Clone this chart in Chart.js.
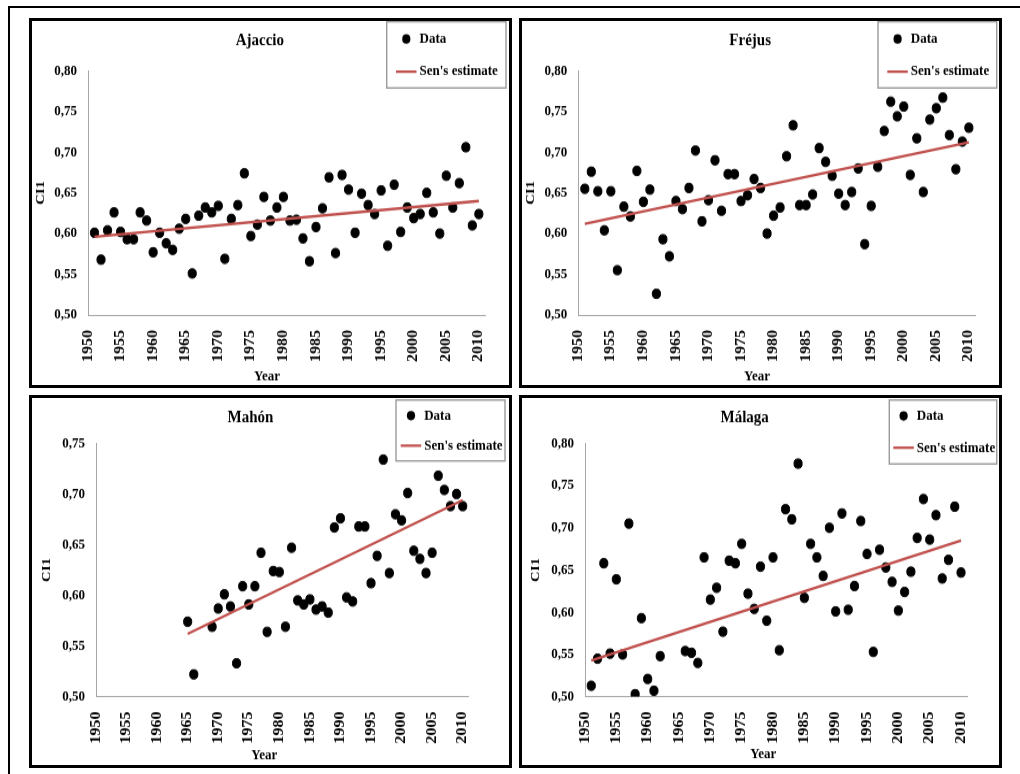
<!DOCTYPE html>
<html>
<head>
<meta charset="utf-8">
<script src="https://cdn.jsdelivr.net/npm/chart.js@4"></script>
<style>
body{margin:0;background:#fff;width:1020px;height:774px;position:relative;overflow:hidden}
.frame{position:absolute;background:#000}
.panel{position:absolute;border:3px solid #000;box-sizing:border-box;width:483px}
.panel canvas{display:block;transform-origin:0 0}
</style>
</head>
<body>
<div class="frame" style="left:8px;top:6px;width:1012px;height:1.5px"></div>
<div class="frame" style="left:8px;top:6px;width:1.5px;height:768px"></div>
<div class="panel" style="left:29px;top:18px;height:370px"><canvas id="c1" width="477" height="317" style="transform:scaleY(1.14826)"></canvas></div>
<div class="panel" style="left:519px;top:18px;height:370px"><canvas id="c2" width="477" height="317" style="transform:scaleY(1.14826)"></canvas></div>
<div class="panel" style="left:29px;top:395px;height:373px"><canvas id="c3" width="477" height="319" style="transform:scaleY(1.15047)"></canvas></div>
<div class="panel" style="left:519px;top:395px;height:373px"><canvas id="c4" width="477" height="319" style="transform:scaleY(1.15047)"></canvas></div>
<script>
// tick labels
var xTickYears = [1950,1955,1960,1965,1970,1975,1980,1985,1990,1995,2000,2005,2010];
var xTickLabels = ['1950','1955','1960','1965','1970','1975','1980','1985','1990','1995','2000','2005','2010'];
var yTicks80 = [0.50,0.55,0.60,0.65,0.70,0.75,0.80];
var yLabels80 = ['0,50','0,55','0,60','0,65','0,70','0,75','0,80'];
var yTicks75 = [0.50,0.55,0.60,0.65,0.70,0.75];
var yLabels75 = ['0,50','0,55','0,60','0,65','0,70','0,75'];

// Ajaccio and Fréjus: 1951-2010
var yearsFull = [1951,1952,1953,1954,1955,1956,1957,1958,1959,1960,
  1961,1962,1963,1964,1965,1966,1967,1968,1969,1970,
  1971,1972,1973,1974,1975,1976,1977,1978,1979,1980,
  1981,1982,1983,1984,1985,1986,1987,1988,1989,1990,
  1991,1992,1993,1994,1995,1996,1997,1998,1999,2000,
  2001,2002,2003,2004,2005,2006,2007,2008,2009,2010];
var ciAjaccio = [0.601,0.568,0.604,0.626,0.602,0.593,0.593,0.626,0.616,0.577,
  0.601,0.588,0.580,0.606,0.618,0.551,0.622,0.632,0.626,0.634,
  0.569,0.618,0.635,0.674,0.597,0.611,0.645,0.616,0.632,0.645,
  0.616,0.617,0.594,0.566,0.608,0.631,0.669,0.576,0.672,0.654,
  0.601,0.649,0.635,0.624,0.653,0.585,0.660,0.602,0.632,0.619,
  0.624,0.650,0.626,0.600,0.671,0.632,0.662,0.706,0.610,0.624];
var ciFrejus = [0.655,0.676,0.652,0.604,0.652,0.555,0.633,0.621,0.677,0.639,
  0.654,0.526,0.593,0.572,0.640,0.630,0.656,0.702,0.615,0.641,
  0.690,0.628,0.673,0.673,0.640,0.647,0.667,0.656,0.600,0.622,
  0.632,0.695,0.733,0.635,0.635,0.648,0.705,0.688,0.671,0.649,
  0.635,0.651,0.680,0.587,0.634,0.682,0.726,0.762,0.744,0.756,
  0.672,0.717,0.651,0.740,0.754,0.767,0.721,0.679,0.713,0.730];

var yearsMahon = [1965,1966,1969,1970,1971,1972,1973,1974,1975,1976,1977,1978,1979,1980,
  1981,1982,1983,1984,1985,1986,1987,1988,1989,1990,1991,1992,1993,1994,1995,1996,
  1997,1998,1999,2000,2001,2002,2003,2004,2005,2006,2007,2008,2009,2010];
var ciMahon = [0.574,0.522,0.569,0.587,0.601,0.589,0.533,0.609,0.591,0.609,0.642,0.564,0.624,0.623,
  0.569,0.647,0.595,0.591,0.596,0.586,0.589,0.583,0.667,0.676,0.598,0.594,0.668,0.668,0.612,0.639,
  0.734,0.622,0.680,0.674,0.701,0.644,0.636,0.622,0.642,0.718,0.704,0.688,0.700,0.688];

var yearsMalaga = [1951,1952,1953,1954,1955,1956,1957,1958,1959,1960,1961,1962,
  1966,1967,1968,1969,1970,1971,1972,1973,1974,1975,1976,1977,1978,1979,1980,
  1981,1982,1983,1984,1985,1986,1987,1988,1989,1990,1991,1992,1993,1994,1995,1996,
  1997,1998,1999,2000,2001,2002,2003,2004,2005,2006,2007,2008,2009,2010];
var ciMalaga = [0.513,0.545,0.658,0.551,0.639,0.550,0.705,0.503,0.593,0.521,0.507,0.548,
  0.554,0.552,0.540,0.665,0.615,0.629,0.577,0.661,0.658,0.681,0.622,0.604,0.654,0.590,0.665,
  0.555,0.722,0.710,0.776,0.617,0.681,0.665,0.643,0.700,0.601,0.717,0.603,0.631,0.708,0.669,0.553,
  0.674,0.653,0.636,0.602,0.624,0.648,0.688,0.734,0.686,0.715,0.640,0.662,0.725,0.647];

// Sen's estimate end points
var senAjaccioX = [1951,2010], senAjaccioY = [0.596,0.640];
var senFrejusX = [1951,2010], senFrejusY = [0.612,0.712];
var senMahonX = [1965,2010], senMahonY = [0.562,0.694];
var senMalagaX = [1951,2010], senMalagaY = [0.543,0.685];

var serif = "'Liberation Serif','Times New Roman',serif";

// legend box and "Year" label drawn inside each panel
var panelExtras = {
  id: 'panelExtras',
  afterDraw: function (chart, args, o) {
    var ctx = chart.ctx;
    var ds = chart.data.datasets;
    var lx = o.box[0] + o.off;
    ctx.save();
    ctx.strokeStyle = '#9a9a9a';
    ctx.lineWidth = 1.4;
    ctx.strokeRect(o.box[0], o.box[1], o.box[2], o.box[3]);
    ctx.fillStyle = ds[0].backgroundColor;
    ctx.beginPath();
    ctx.arc(lx + 10.3, o.box[1] + o.r1, 4.1, 0, Math.PI * 2);
    ctx.fill();
    ctx.strokeStyle = ds[1].borderColor;
    ctx.lineWidth = 2.2;
    ctx.beginPath();
    ctx.moveTo(lx, o.box[1] + o.r2);
    ctx.lineTo(lx + 20.5, o.box[1] + o.r2);
    ctx.stroke();
    ctx.fillStyle = '#000';
    ctx.font = 'bold 13px ' + serif;
    ctx.textBaseline = 'middle';
    ctx.textAlign = 'left';
    ctx.fillText(ds[0].label, lx + 23.5, o.box[1] + o.r1);
    ctx.fillText(ds[1].label, lx + 23.5, o.box[1] + o.r2);
    ctx.textAlign = 'center';
    ctx.fillText('Year', o.year[0], o.year[1]);
    ctx.restore();
  }
};

function makePanel(id, p) {
  var pts = p.years.map(function (yr, i) { return {x: yr, y: p.values[i]}; });
  var sen = p.senX.map(function (yr, i) { return {x: yr, y: p.senY[i]}; });
  new Chart(document.getElementById(id), {
    type: 'scatter',
    data: {
      datasets: [{
        label: 'Data',
        data: pts,
        backgroundColor: '#000',
        borderColor: '#000',
        pointRadius: 4.1,
        pointHoverRadius: 4.1,
        order: 1
      }, {
        label: "Sen's estimate",
        data: sen,
        showLine: true,
        borderColor: '#c0504d',
        backgroundColor: '#c0504d',
        borderWidth: 2.3,
        pointRadius: 0,
        order: 0
      }]
    },
    plugins: [panelExtras],
    options: {
      responsive: false,
      animation: false,
      devicePixelRatio: 1,
      layout: {padding: {left: 0, top: 0, right: p.padRight, bottom: 0}},
      plugins: {
        legend: {display: false},
        tooltip: {enabled: false},
        title: {
          display: true,
          text: p.name,
          color: '#000',
          font: {family: serif, size: 15, weight: 'bold'},
          padding: {top: p.titleTop, bottom: p.titleBottom}
        },
        panelExtras: p.extras
      },
      scales: {
        x: {
          type: 'linear',
          min: 1950,
          max: 2011,
          afterBuildTicks: function (s) { s.ticks = xTickYears.map(function (v) { return {value: v}; }); },
          afterFit: function (s) { s.height = p.xH; },
          grid: {display: false, drawTicks: false},
          border: {color: '#a6a6a6', width: 1},
          ticks: {
            autoSkip: false,
            minRotation: 90,
            maxRotation: 90,
            padding: 13,
            color: '#000',
            font: {family: serif, size: 14, weight: 'bold'},
            callback: function (v, i) { return xTickLabels[i]; }
          }
        },
        y: {
          min: 0.5,
          max: p.yMax,
          afterBuildTicks: function (s) { s.ticks = p.yTicks.map(function (v) { return {value: v}; }); },
          afterFit: function (s) { s.width = p.yW; },
          grid: {display: false, drawTicks: false},
          border: {color: '#a6a6a6', width: 1},
          ticks: {
            padding: 11,
            color: '#000',
            font: {family: serif, size: 13, weight: 'bold'},
            callback: function (v, i) { return p.yLabels[i]; }
          },
          title: {
            display: true,
            text: 'CI1',
            color: '#000',
            font: {family: serif, size: 13, weight: 'bold'},
            padding: {top: p.ciPad, bottom: 0}
          }
        }
      }
    }
  });
}

// vertical positions below are in canvas units (canvas is stretched vertically by CSS)
makePanel('c1', {
  name: 'Ajaccio', years: yearsFull, values: ciAjaccio, senX: senAjaccioX, senY: senAjaccioY,
  yMax: 0.8, yTicks: yTicks80, yLabels: yLabels80,
  yW: 56, xH: 61, padRight: 21.4, titleTop: 8.2, titleBottom: 17.1, ciPad: 0.5,
  extras: {box: [354.7, 0.6, 119.3, 57.7], off: 9.3, r1: 15.1, r2: 43.5, year: [235, 309.2]}
});
makePanel('c2', {
  name: 'Fréjus', years: yearsFull, values: ciFrejus, senX: senFrejusX, senY: senFrejusY,
  yMax: 0.8, yTicks: yTicks80, yLabels: yLabels80,
  yW: 56.3, xH: 61, padRight: 20.7, titleTop: 8.2, titleBottom: 17.1, ciPad: 1.2,
  extras: {box: [356, 0.6, 118.7, 57.7], off: 9.3, r1: 15.1, r2: 43.5, year: [235, 309.2]}
});
makePanel('c3', {
  name: 'Mahón', years: yearsMahon, values: ciMahon, senX: senMahonX, senY: senMahonY,
  yMax: 0.75, yTicks: yTicks75, yLabels: yLabels75,
  yW: 64, xH: 59.4, padRight: 40.2, titleTop: 8.6, titleBottom: 12.8, ciPad: 6.9,
  extras: {box: [364, 1.7, 109, 53], off: 4.7, r1: 13.6, r2: 39.7, year: [232.3, 310.9]}
});
makePanel('c4', {
  name: 'Málaga', years: yearsMalaga, values: ciMalaga, senX: senMalagaX, senY: senMalagaY,
  yMax: 0.8, yTicks: yTicks80, yLabels: yLabels80,
  yW: 63, xH: 59.4, padRight: 31.7, titleTop: 8.6, titleBottom: 12.8, ciPad: 5.9,
  extras: {box: [367.3, 1.7, 107.4, 55.6], off: 4, r1: 13.9, r2: 41.5, year: [241.3, 309.7]}
});
</script>
</body>
</html>
